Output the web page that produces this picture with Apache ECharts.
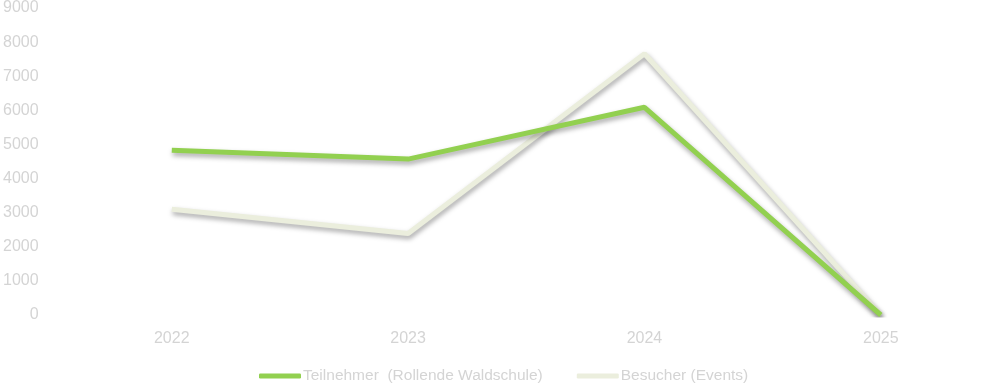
<!DOCTYPE html>
<html><head><meta charset="utf-8">
<script src="https://cdn.jsdelivr.net/npm/echarts@6/dist/echarts.min.js"></script>
<style>html,body{margin:0;padding:0;background:#fff}#c{width:1000px;height:385px}</style>
</head><body><div id="c"></div>
<script>
const categories = ['2022', '2023', '2024', '2025'];
const teilnehmer = [4830, 4570, 6090, 0];
const besucher = [3100, 2390, 7660, 0];
const seriesNames = ['Teilnehmer  (Rollende Waldschule)', 'Besucher (Events)'];

const chart = echarts.init(document.getElementById('c'));
const lblColor = '#d4d4d4';
const font = 'Liberation Sans';
const shadow = {shadowColor: 'rgba(0,0,0,0.35)', shadowBlur: 5, shadowOffsetX: 1, shadowOffsetY: 3};
chart.setOption({
  animation: false,
  grid: {left: 51, right: 1, top: 6, bottom: 70},
  legend: {
    bottom: -4, left: 254, itemWidth: 42, itemHeight: 5, itemGap: 34,
    icon: 'roundRect',
    textStyle: {color: lblColor, fontSize: 15.5, fontFamily: font, padding: [0, 0, 0, -3]},
    data: seriesNames
  },
  xAxis: {
    type: 'category', data: categories, boundaryGap: true,
    axisLine: {show: false}, axisTick: {show: false},
    axisLabel: {color: lblColor, fontSize: 16, fontFamily: font, margin: 16}
  },
  yAxis: {
    type: 'value', min: 0, max: 9000, interval: 1000,
    axisLine: {show: false}, axisTick: {show: false},
    splitLine: {show: false},
    axisLabel: {color: lblColor, fontSize: 16, fontFamily: font, margin: 15, formatter: v => String(v)}
  },
  series: [
    {name: seriesNames[0], type: 'line', data: teilnehmer, symbol: 'none',
     color: '#92d050', lineStyle: Object.assign({width: 5, color: '#92d050'}, shadow), z: 3},
    {name: seriesNames[1], type: 'line', data: besucher, symbol: 'none',
     color: '#ebeedd', lineStyle: Object.assign({width: 5, color: '#ebeedd'}, shadow), z: 2}
  ]
});
</script></body></html>
